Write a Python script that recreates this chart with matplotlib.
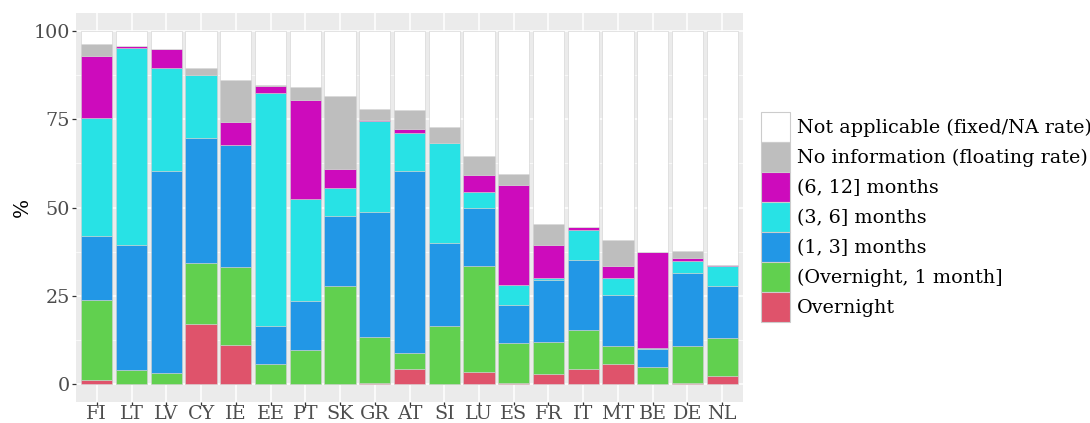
import numpy as np
import matplotlib.pyplot as plt
from matplotlib.patches import Patch
from matplotlib.ticker import MultipleLocator

countries = ["FI", "LT", "LV", "CY", "IE", "EE", "PT", "SK", "GR", "AT",
             "SI", "LU", "ES", "FR", "IT", "MT", "BE", "DE", "NL"]

# segment shares in %, bottom to top
overnight = [1.3, 0.0, 0.0, 17.1, 11.1, 0.0, 0.0, 0.0, 0.3, 4.4,
             0.0, 3.4, 0.5, 2.8, 4.4, 5.8, 0.0, 0.3, 2.3]
on_1m = [22.6, 4.1, 3.3, 17.1, 22.1, 5.7, 9.8, 27.7, 13.2, 4.5,
         16.4, 30.0, 11.2, 9.1, 11.0, 4.9, 5.0, 10.4, 10.8]
m1_3 = [18.1, 35.3, 56.9, 35.5, 34.4, 10.8, 13.8, 19.9, 35.1, 51.4,
        23.7, 16.5, 10.7, 17.6, 19.8, 14.5, 5.1, 20.8, 14.6]
m3_6 = [33.2, 55.8, 29.3, 17.8, 0.2, 66.0, 28.9, 8.0, 25.9, 10.9,
        28.1, 4.4, 5.7, 0.5, 8.5, 5.0, 0.1, 3.4, 5.9]
m6_12 = [17.6, 0.5, 5.3, 0.0, 6.4, 1.8, 28.0, 5.2, 0.3, 1.1,
         0.0, 5.0, 28.2, 9.4, 0.7, 3.2, 27.2, 0.7, 0.2]
no_info = [3.5, 0.0, 0.0, 1.9, 11.9, 0.3, 3.7, 20.7, 3.1, 5.4,
           4.6, 5.4, 3.3, 5.8, 0.0, 7.4, 0.0, 2.0, 0.0]

labels = ["Overnight", "(Overnight, 1 month]", "(1, 3] months", "(3, 6] months",
          "(6, 12] months", "No information (floating rate)",
          "Not applicable (fixed/NA rate)"]
colors = ["#DF536B", "#61D04F", "#2297E6", "#28E2E5", "#CD0BBC", "#BEBEBE", "#FFFFFF"]

segs = [overnight, on_1m, m1_3, m3_6, m6_12, no_info]
not_app = 100 - np.sum(segs, axis=0)
segs.append(list(not_app))

plt.rcParams['font.family'] = ['DejaVu Serif']
fig = plt.figure(figsize=(10.9, 4.23), dpi=100)
ax = fig.add_axes([0.0697, 0.0496, 0.612, 0.9197])
ax.set_facecolor("#EBEBEB")

x = np.arange(1, len(countries) + 1)
bottom = np.zeros(len(countries))
for vals, col, lab in zip(segs, colors, labels):
    ax.bar(x, vals, bottom=bottom, width=0.9, color=col, edgecolor="#D0D0D0",
           linewidth=0.4, label=lab, zorder=3)
    bottom += np.array(vals)

ax.set_xlim(0.4, len(countries) + 0.6)
ax.set_ylim(-5, 105)
ax.set_xticks(x)
ax.set_xticklabels(countries)
ax.set_yticks([0, 25, 50, 75, 100])
ax.yaxis.set_minor_locator(MultipleLocator(12.5))
ax.grid(which="major", color="white", linewidth=1.1, zorder=0)
ax.grid(which="minor", axis="y", color="white", linewidth=0.5, zorder=0)
ax.set_axisbelow(True)
for s in ax.spines.values():
    s.set_visible(False)
ax.tick_params(axis="both", which="major", labelsize=13.8, labelcolor="#4D4D4D",
               color="#333333", length=3, width=0.9, pad=1.5)
ax.tick_params(axis="x", which="major", length=2.5, pad=0)
ax.tick_params(axis="both", which="minor", length=0)
ax.set_ylabel("%", fontsize=14.5, labelpad=1)

handles = [Patch(facecolor=c, edgecolor="#CCCCCC", linewidth=0.8)
           for c in colors][::-1]
leg = fig.legend(handles, labels[::-1], loc="center left",
                 bbox_to_anchor=(0.689, 0.487), frameon=False, fontsize=13.8,
                 handlelength=1.51, handleheight=2.03, labelspacing=0.0,
                 handletextpad=0.37, borderpad=0)

fig.savefig("out.png", dpi=100)
